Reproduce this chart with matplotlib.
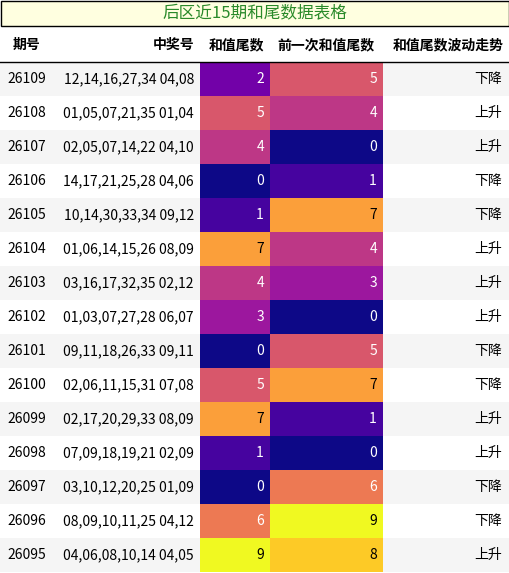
import matplotlib
matplotlib.use("Agg")
import matplotlib.pyplot as plt
from matplotlib.patches import Rectangle

plt.rcParams['font.family'] = ['Noto Sans CJK SC', 'DejaVu Sans']

title = "后区近15期和尾数据表格"
headers = ["期号", "中奖号", "和值尾数", "前一次和值尾数", "和值尾数波动走势"]
periods = ["26109","26108","26107","26106","26105","26104","26103","26102","26101","26100","26099","26098","26097","26096","26095"]
numbers = ["12,14,16,27,34 04,08","01,05,07,21,35 01,04","02,05,07,14,22 04,10","14,17,21,25,28 04,06",
           "10,14,30,33,34 09,12","01,06,14,15,26 08,09","03,16,17,32,35 02,12","01,03,07,27,28 06,07",
           "09,11,18,26,33 09,11","02,06,11,15,31 07,08","02,17,20,29,33 08,09","07,09,18,19,21 02,09",
           "03,10,12,20,25 01,09","08,09,10,11,25 04,12","04,06,08,10,14 04,05"]
tails = [2,5,4,0,1,7,4,3,0,5,7,1,0,6,9]
prev_tails = [5,4,0,1,7,4,3,0,5,7,1,0,6,9,8]
trends = ["下降","上升","上升","下降","下降","上升","上升","上升","下降","下降","上升","上升","下降","下降","上升"]

W, H = 510, 573
fig = plt.figure(figsize=(W/100, H/100), dpi=100)
ax = fig.add_axes([0, 0, 1, 1])
ax.set_xlim(0, W); ax.set_ylim(H, 0); ax.axis('off')

ax.add_patch(Rectangle((0.5, 0.5), W-1, 25, facecolor='#ffffe0', edgecolor='black', lw=1))
ax.text(W/2, 13, title, ha='center', va='center', fontsize=12, color='#2a8a2a')

cols = [0, 55, 200, 270, 383, 510]
hy, rh, y0 = 45, 34, 62
hx = [27, 194, 236, 326, 504]
has = ['center', 'right', 'center', 'center', 'right']
for x, h, a in zip(hx, headers, has):
    ax.text(x, hy, h, ha=a, va='center', fontsize=10, fontweight='bold')
ax.plot([0, W], [y0, y0], color='black', lw=1)

cmap = plt.get_cmap('plasma')
for i in range(len(periods)):
    y = y0 + i*rh
    if i % 2 == 0:
        ax.add_patch(Rectangle((0, y), W, rh, facecolor='#f5f5f5', edgecolor='none'))
    yc = y + rh/2
    ax.text(27, yc, periods[i], ha='center', va='center', fontsize=10)
    ax.text(194, yc, numbers[i], ha='right', va='center', fontsize=10)
    for j, v in enumerate([tails[i], prev_tails[i]]):
        x0, x1 = cols[2+j], cols[3+j]
        ax.add_patch(Rectangle((x0, y), x1-x0, rh, facecolor=cmap(v/9), edgecolor='none'))
        ax.text(x1-6, yc, str(v), ha='right', va='center', fontsize=10,
                color='black' if v >= 7 else 'white')
    ax.text(502, yc, trends[i], ha='right', va='center', fontsize=10)

fig.savefig("out.png", dpi=100)
